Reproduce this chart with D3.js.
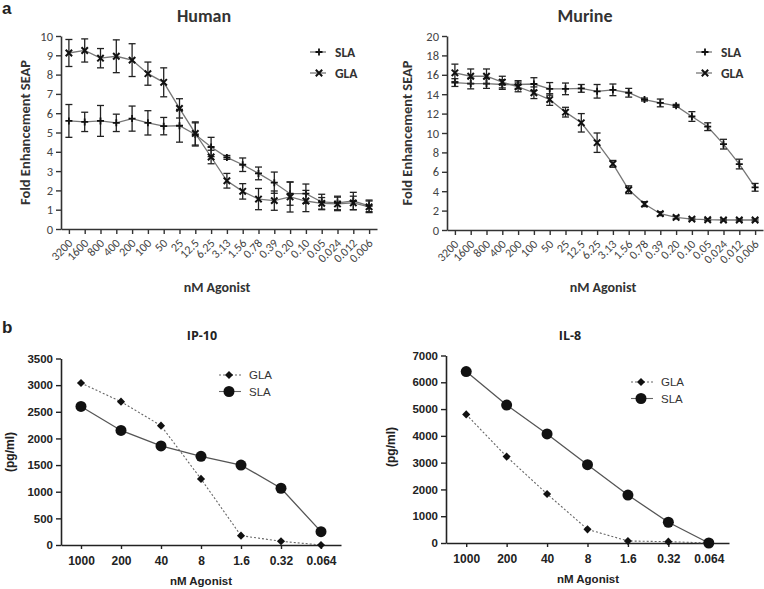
<!DOCTYPE html>
<html><head><meta charset="utf-8">
<script src="https://cdn.jsdelivr.net/npm/d3@7"></script>
<style>
body{margin:0;background:#fff;}
svg{display:block;}
.cal{font-family:"Carlito","Open Sans",sans-serif;}
.ari{font-family:"Liberation Sans",Arial,sans-serif;}
</style></head>
<body>
<svg id="chart" width="764" height="589"></svg>
<script>
// ---------- DATA ----------
const concentrations = ["3200","1600","800","400","200","100","50","25","12.5","6.25","3.13","1.56","0.78","0.39","0.20","0.10","0.05","0.024","0.012","0.006"];
const humanSLA    = [5.6,5.55,5.6,5.5,5.72,5.5,5.33,5.35,4.9,4.25,3.71,3.33,2.88,2.4,1.83,1.83,1.4,1.35,1.45,1.2];
const humanSLAErr = [0.85,0.5,0.8,0.45,0.65,0.63,0.45,0.85,0.6,0.5,0.1,0.35,0.33,0.55,0.6,0.5,0.4,0.35,0.45,0.3];
const humanGLA    = [9.12,9.25,8.85,8.95,8.75,8.05,7.6,6.25,4.95,3.73,2.5,1.95,1.55,1.47,1.66,1.45,1.33,1.3,1.35,1.15];
const humanGLAErr = [0.7,0.6,0.5,0.85,0.85,0.6,0.75,0.5,0.6,0.35,0.38,0.4,0.55,0.5,0.78,0.55,0.3,0.35,0.35,0.3];
const murineSLA    = [15.2,15.1,15.1,15.0,15.0,15.05,14.55,14.55,14.6,14.3,14.45,14.15,13.45,13.1,12.8,11.7,10.65,8.85,6.8,4.4];
const murineSLAErr = [0.4,0.55,0.5,0.5,0.4,0.65,0.65,0.6,0.4,0.7,0.6,0.45,0.15,0.4,0.15,0.5,0.4,0.5,0.5,0.4];
const murineGLA    = [16.2,15.85,15.85,15.25,14.75,14.15,13.45,12.15,11.05,9.0,6.82,4.15,2.67,1.68,1.3,1.13,1.06,1.03,1.03,1.03];
const murineGLAErr = [0.9,0.75,0.75,0.6,0.5,0.6,0.6,0.5,0.95,1.0,0.35,0.4,0.25,0.2,0.15,0.1,0.1,0.1,0.1,0.1];
const humanTicks  = [0,1,2,3,4,5,6,7,8,9,10];
const murineTicks = [0,2,4,6,8,10,12,14,16,18,20];

const doses = ["1000","200","40","8","1.6","0.32","0.064"];
const ip10GLA = [3040,2690,2240,1240,175,70,0];
const ip10SLA = [2600,2150,1860,1665,1500,1065,250];
const il8GLA  = [4800,3225,1830,510,75,50,0];
const il8SLA  = [6400,5150,4070,2925,1790,775,0];
const ip10Ticks = [0,500,1000,1500,2000,2500,3000,3500];
const il8Ticks  = [0,1000,2000,3000,4000,5000,6000,7000];

// ---------- DRAW ----------
const svg = d3.select("#chart");

function topPanel(o){
  const x = d3.scalePoint().domain(concentrations).range([o.x0,o.x1]).padding(0.5);
  const y = d3.scaleLinear().domain([0,o.ymax]).range([o.y0,o.y1]);
  const g = svg.append("g").attr("class","cal");
  // axes
  const ya = g.append("g").attr("transform",`translate(${o.x0},0)`)
    .call(d3.axisLeft(y).tickValues(o.ticks).tickSize(5).tickSizeOuter(0).tickPadding(3));
  const xa = g.append("g").attr("transform",`translate(0,${o.y0})`)
    .call(d3.axisBottom(x).tickSize(5).tickSizeOuter(0));
  [ya,xa].forEach(a=>{a.select(".domain").attr("stroke","#333").attr("stroke-width",1.6);
    a.selectAll(".tick line").attr("stroke","#333").attr("stroke-width",1.4);
    a.selectAll("text").attr("fill","#444").style("font-size","12.5px").style("font-family",'"Carlito","Open Sans",sans-serif');});
  xa.selectAll(".tick text").attr("text-anchor","end").attr("dy",0).attr("y",0)
    .attr("transform","translate(4,15) rotate(-45)").style("font-size","12px");
  // series
  const line = d3.line().x((d,i)=>x(concentrations[i])).y(d=>y(d));
  o.series.forEach(s=>{
    g.append("path").datum(s.v).attr("d",line).attr("fill","none").attr("stroke","#777").attr("stroke-width",1.3);
  });
  o.series.forEach(s=>{
    s.v.forEach((v,i)=>{
      const cx = x(concentrations[i]);
      const t = y(v+s.e[i]), b = y(v-s.e[i]);
      g.append("line").attr("x1",cx).attr("x2",cx).attr("y1",t).attr("y2",b).attr("stroke","#222").attr("stroke-width",1.3);
      [t,b].forEach(yy=>g.append("line").attr("x1",cx-3.5).attr("x2",cx+3.5).attr("y1",yy).attr("y2",yy).attr("stroke","#222").attr("stroke-width",1.3));
      marker(g,s.m,cx,y(v));
    });
  });
  // legend
  o.series.forEach((s,k)=>{
    const ly = o.legY + k*21;
    g.append("line").attr("x1",o.legX-9).attr("x2",o.legX+7).attr("y1",ly).attr("y2",ly).attr("stroke","#777").attr("stroke-width",1.3);
    marker(g,s.m,o.legX,ly);
    g.append("text").attr("x",o.legX+16).attr("y",ly+4.5).text(s.name).attr("fill","#333")
      .style("font-size","13.5px").style("font-weight","700");
  });
  // titles
  g.append("text").attr("x",o.titleX).attr("y",22).attr("text-anchor","middle").text(o.title)
    .attr("fill","#333").style("font-size","18px").style("font-weight","700");
  g.append("text").attr("transform",`translate(${o.ylabX},${(o.y0+o.y1)/2}) rotate(-90)`).attr("text-anchor","middle")
    .text("Fold Enhancement SEAP").attr("fill","#333").style("font-size","14.5px").style("font-weight","700");
  g.append("text").attr("x",o.xlabX).attr("y",292).attr("text-anchor","middle").text("nM Agonist")
    .attr("fill","#333").style("font-size","14px").style("font-weight","700");
}

function marker(g,type,cx,cy){
  if(type==="plus"){
    g.append("path").attr("d",`M${cx-3.5},${cy}H${cx+3.5}M${cx},${cy-3.5}V${cy+3.5}`).attr("stroke","#111").attr("stroke-width",1.8);
  } else if(type==="cross"){
    g.append("path").attr("d",`M${cx-3.2},${cy-3.2}L${cx+3.2},${cy+3.2}M${cx-3.2},${cy+3.2}L${cx+3.2},${cy-3.2}`).attr("stroke","#111").attr("stroke-width",2);
  } else if(type==="diamond"){
    g.append("path").attr("d",d3.symbol(d3.symbolDiamond2,42)()).attr("transform",`translate(${cx},${cy})`).attr("fill","#111");
  } else if(type==="circle"){
    g.append("circle").attr("cx",cx).attr("cy",cy).attr("r",5.5).attr("fill","#111");
  }
}

function bottomPanel(o){
  const x = d3.scalePoint().domain(doses).range([o.x0,o.x1]).padding(0.5);
  const y = d3.scaleLinear().domain([0,o.ymax]).range([o.y0,o.y1]);
  const g = svg.append("g").attr("class","ari");
  const ya = g.append("g").attr("transform",`translate(${o.x0},0)`)
    .call(d3.axisLeft(y).tickValues(o.ticks).tickSize(5).tickSizeOuter(0).tickPadding(3).tickFormat(d3.format("d")));
  const xa = g.append("g").attr("transform",`translate(0,${o.y0})`)
    .call(d3.axisBottom(x).tickSize(4).tickSizeOuter(0).tickPadding(7));
  [ya,xa].forEach(a=>{a.select(".domain").attr("stroke","#222").attr("stroke-width",1.6);
    a.selectAll(".tick line").attr("stroke","#222").attr("stroke-width",1.4);
    a.selectAll("text").attr("fill","#222").style("font-size","11.5px").style("font-weight","700").style("font-family",'"Liberation Sans",Arial,sans-serif');});
  xa.selectAll(".tick text").style("font-size","12px");
  const line = d3.line().x((d,i)=>x(doses[i])).y(d=>y(d));
  o.series.forEach(s=>{
    g.append("path").datum(s.v).attr("d",line).attr("fill","none").attr("stroke",s.dash?"#666":"#555")
      .attr("stroke-width",s.dash?1.1:1.3).attr("stroke-dasharray",s.dash?"2,2":null);
  });
  o.series.forEach(s=>{ s.v.forEach((v,i)=>marker(g,s.m,x(doses[i]),y(v))); });
  o.series.forEach((s,k)=>{
    const ly = o.legY + k*16.5;
    g.append("line").attr("x1",o.legX-10).attr("x2",o.legX+12).attr("y1",ly).attr("y2",ly)
      .attr("stroke","#666").attr("stroke-width",1.1).attr("stroke-dasharray",s.dash?"2,2":null);
    marker(g,s.m,o.legX,ly);
    g.append("text").attr("x",o.legX+20).attr("y",ly+4).text(s.name).attr("fill","#333").style("font-size","11.5px");
  });
  g.append("text").attr("x",o.titleX).attr("y",340).attr("text-anchor","middle").text(o.title)
    .attr("fill","#222").style("font-size","12.5px").style("font-weight","700").style("font-family",'"Open Sans",sans-serif');
  g.append("text").attr("transform",`translate(${o.ylabX},${o.ylabY}) rotate(-90)`).attr("text-anchor","middle")
    .text("(pg/ml)").attr("fill","#222").style("font-size","12px").style("font-weight","700");
  g.append("text").attr("x",o.xlabX).attr("y",o.xlabY).attr("text-anchor","middle").text("nM Agonist")
    .attr("fill","#222").style("font-size","11.5px").style("font-weight","700");
}

// panel labels
svg.append("text").attr("x",2).attr("y",14).text("a").attr("class","ari").style("font-size","17px").style("font-weight","700").attr("fill","#222");
svg.append("text").attr("x",2).attr("y",333).text("b").attr("class","ari").style("font-size","17px").style("font-weight","700").attr("fill","#222");

topPanel({x0:61,x1:377,y0:229,y1:36,ymax:10,ticks:humanTicks,title:"Human",titleX:204,ylabX:30,xlabX:217,
  legX:319,legY:52,
  series:[{name:"SLA",v:humanSLA,e:humanSLAErr,m:"plus"},{name:"GLA",v:humanGLA,e:humanGLAErr,m:"cross"}]});
topPanel({x0:447,x1:763,y0:230,y1:36,ymax:20,ticks:murineTicks,title:"Murine",titleX:585,ylabX:412,xlabX:603,
  legX:705,legY:52,
  series:[{name:"SLA",v:murineSLA,e:murineSLAErr,m:"plus"},{name:"GLA",v:murineGLA,e:murineGLAErr,m:"cross"}]});

bottomPanel({x0:61,x1:341,y0:545,y1:358.5,ymax:3500,ticks:ip10Ticks,title:"IP-10",titleX:202,ylabX:14,ylabY:452,
  xlabX:201,xlabY:585,legX:229,legY:375,
  series:[{name:"GLA",v:ip10GLA,m:"diamond",dash:true},{name:"SLA",v:ip10SLA,m:"circle",dash:false}]});
bottomPanel({x0:446,x1:729,y0:543,y1:355.5,ymax:7000,ticks:il8Ticks,title:"IL-8",titleX:570,ylabX:395,ylabY:447,
  xlabX:588,xlabY:583,legX:641,legY:382,
  series:[{name:"GLA",v:il8GLA,m:"diamond",dash:true},{name:"SLA",v:il8SLA,m:"circle",dash:false}]});
</script>
</body></html>
